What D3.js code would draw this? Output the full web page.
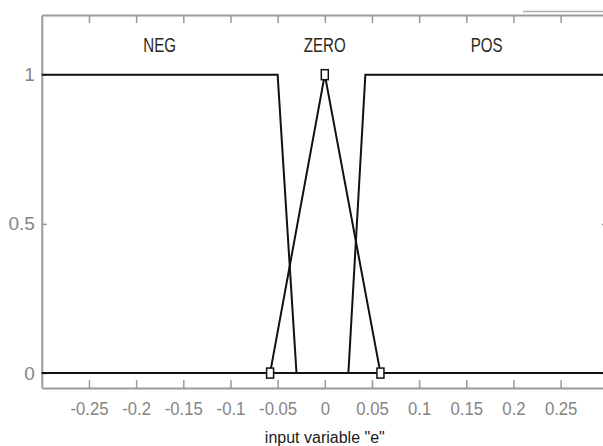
<!DOCTYPE html>
<html>
<head>
<meta charset="utf-8">
<script src="https://cdn.jsdelivr.net/npm/d3@7"></script>
<style>
  body { margin: 0; background: #fff; }
  svg { display: block; }
</style>
</head>
<body>
<div id="chart"></div>
<script>
"use strict";

// membership functions of input "e" (break points)
const mfNames = ["NEG", "ZERO", "POS"];
const negX = [-0.3, -0.05, -0.03, 0.3];
const negY = [1, 1, 0, 0];
const zeroX = [-0.3, -0.058, 0, 0.059, 0.3];
const zeroY = [0, 0, 1, 0, 0];
const posX = [-0.3, 0.025, 0.043, 0.3];
const posY = [0, 0, 1, 1];
// where the little squares sit (triangle vertices)
const markX = [-0.058, 0, 0.059];
const markY = [0, 1, 0];
// label anchor (centre of each set's core)
const labelX = [-0.175, 0, 0.1715];
const labelY = [1.1, 1.1, 1.1];

const xTicks = [-0.25, -0.2, -0.15, -0.1, -0.05, 0, 0.05, 0.1, 0.15, 0.2, 0.25];
const yTicks = [0, 0.5, 1];
const xTitle = 'input variable "e"';

const width = 603, height = 446;
const x = d3.scaleLinear().domain([-0.3, 0.3]).range([41.8, 607.8]);
const y = d3.scaleLinear().domain([-0.05, 1.2]).range([388, 15]);

const svg = d3.select("#chart").append("svg")
    .attr("width", width)
    .attr("height", height)
    .attr("font-family", "'Liberation Sans', Arial, sans-serif");

const gray = "#9a9a9a";

// frame + ticks (all ticks point inwards, matlab style)
const fmtTick = d => d === 0 ? "0" : String(d);

const axBottom = svg.append("g")
    .attr("transform", `translate(0,${y.range()[0]})`)
    .call(d3.axisBottom(x).tickValues(xTicks).tickFormat(fmtTick).tickSizeInner(-8).tickSizeOuter(0).tickPadding(14));
const axTop = svg.append("g")
    .attr("transform", `translate(0,${y.range()[1]})`)
    .call(d3.axisTop(x).tickValues(xTicks).tickFormat("").tickSizeInner(-8).tickSizeOuter(0));
const axLeft = svg.append("g")
    .attr("transform", `translate(${x.range()[0]},0)`)
    .call(d3.axisLeft(y).tickValues(yTicks).tickFormat(fmtTick).tickSizeInner(-5).tickSizeOuter(0).tickPadding(7));
const axRight = svg.append("g")
    .attr("transform", `translate(${x.range()[1]},0)`)
    .call(d3.axisRight(y).tickValues(yTicks).tickFormat("").tickSizeInner(-6).tickSizeOuter(0));

[axBottom, axTop, axLeft, axRight].forEach(g => {
  g.attr("font-size", 19).attr("font-family", null);
  g.select(".domain").attr("stroke", gray).attr("stroke-width", 2);
  g.selectAll(".tick line").attr("stroke", gray).attr("stroke-width", 1.5);
  g.selectAll("text")
      .attr("fill", "#858585")
      .attr("transform", "scale(0.88,1)");
});
axLeft.selectAll("text").attr("transform", null);

// stray double line at top right of the screenshot
svg.append("line")
    .attr("x1", 523).attr("x2", width)
    .attr("y1", 11.5).attr("y2", 11.5)
    .attr("stroke", "#b0b0b0").attr("stroke-width", 1.5);

// membership curves
const mfs = [
  negX.map((v, i) => [v, negY[i]]),
  zeroX.map((v, i) => [v, zeroY[i]]),
  posX.map((v, i) => [v, posY[i]])
];
const line = d3.line().x(d => x(d[0])).y(d => y(d[1]));

svg.append("g")
  .selectAll("path")
  .data(mfs)
  .join("path")
    .attr("d", line)
    .attr("fill", "none")
    .attr("stroke", "#111")
    .attr("stroke-width", 2)
    .attr("stroke-linejoin", "miter");

// little squares on the triangle vertices
svg.append("g")
  .selectAll("rect")
  .data(markX)
  .join("rect")
    .attr("x", d => x(d) - 3.5)
    .attr("y", (d, i) => y(markY[i]) - 5)
    .attr("width", 7)
    .attr("height", 10)
    .attr("fill", "#fff")
    .attr("stroke", "#111")
    .attr("stroke-width", 1.5);

// set names
svg.append("g")
  .selectAll("text")
  .data(mfNames)
  .join("text")
    .attr("transform", (d, i) => `translate(${x(labelX[i])},${y(labelY[i])}) scale(0.72,1)`)
    .attr("text-anchor", "middle")
    .attr("dy", "0.36em")
    .attr("font-size", 21)
    .attr("fill", "#2a2a1a")
    .text(d => d);

// x title
svg.append("text")
    .attr("x", x(0))
    .attr("y", 443)
    .attr("text-anchor", "middle")
    .attr("font-size", 16)
    .attr("fill", "#1a1a1a")
    .text(xTitle);
</script>
</body>
</html>
